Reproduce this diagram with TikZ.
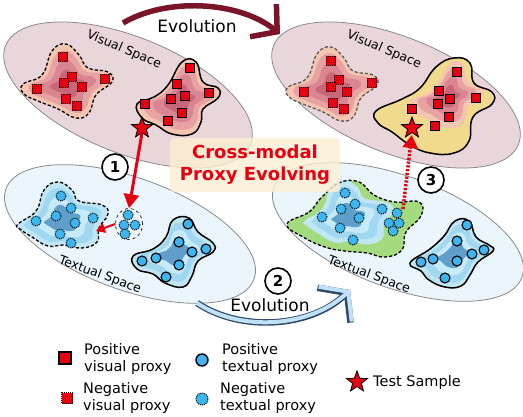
\documentclass[tikz,border=0pt]{standalone}
\usepackage{fontspec}
\setmainfont{DejaVu Sans}
\usetikzlibrary{arrows.meta,shapes.geometric}

\definecolor{visbg}{HTML}{E9D6DB}
\definecolor{txtbg}{HTML}{EAF6FC}
\definecolor{spaceline}{HTML}{8A8A8A}
\definecolor{redA}{HTML}{F4C5B0}
\definecolor{redB}{HTML}{E8A2A2}
\definecolor{redC}{HTML}{D98592}
\definecolor{redD}{HTML}{C86779}
\definecolor{bluA}{HTML}{C0E6F6}
\definecolor{bluB}{HTML}{9FD8F0}
\definecolor{bluC}{HTML}{C6EAF8}
\definecolor{bluD}{HTML}{5F9FCA}
\definecolor{yelA}{HTML}{F1D98E}
\definecolor{grnA}{HTML}{A5DB7F}
\definecolor{proxred}{HTML}{E60012}
\definecolor{proxblue}{HTML}{3DB5F0}
\definecolor{evored}{HTML}{7A1428}
\definecolor{evoblue}{HTML}{BFE2F6}
\definecolor{evoedge}{HTML}{2F4A66}
\definecolor{boxbg}{HTML}{FBEFD2}

% blob outlines, relative to the cluster centre (y down)
\newcommand{\blobvneg}{plot[smooth cycle, tension=0.75] coordinates {(-45,-1) (-26,-10) (-16,-34) (-2,-41) (11,-30) (20,-17) (40,-13) (44,-3) (28,10) (21,28) (8,33) (-10,24) (-30,16) (-44,9)}}
\newcommand{\blobvpos}{plot[smooth cycle, tension=0.75] coordinates {(-43,4) (-26,-3) (-12,-15) (2,-38) (16,-38) (23,-18) (38,-12) (38,-2) (23,9) (21,22) (12,34) (-8,34) (-24,25) (-38,18)}}
\newcommand{\blobyel}{plot[smooth cycle, tension=0.75] coordinates {(-56,6) (-30,-6) (-12,-17) (4,-38) (22,-47) (38,-42) (42,-22) (60,-13) (60,-1) (41,12) (37,36) (22,48) (-2,48) (-22,40) (-40,27) (-54,18)}}
\newcommand{\blobtneg}{plot[smooth cycle, tension=0.75] coordinates {(-44,4) (-26,-9) (-18,-30) (-4,-38) (10,-30) (17,-19) (40,-15) (46,-6) (37,8) (35,22) (20,28) (2,25) (-14,26) (-30,17) (-42,9)}}
\newcommand{\blobtpos}{plot[smooth cycle, tension=0.75] coordinates {(-42,4) (-22,-3) (-9,-15) (-2,-32) (14,-34) (23,-20) (38,-9) (38,0) (23,9) (17,24) (8,35) (-10,31) (-22,22) (-38,17)}}
\newcommand{\blobgrn}{plot[smooth cycle, tension=0.75] coordinates {(-68,4) (-46,-8) (-34,-22) (-16,-37) (4,-38) (19,-25) (40,-18) (64,-18) (66,-4) (51,12) (47,30) (30,37) (12,33) (-10,31) (-30,27) (-52,17)}}
\newcommand{\blobtposb}{plot[smooth cycle, tension=0.75] coordinates {(-45,8) (-25,-6) (-11,-19) (0,-34) (14,-34) (21,-18) (34,-10) (38,-4) (23,7) (15,20) (6,31) (-10,32) (-26,25) (-34,16)}}

\begin{document}
\begin{tikzpicture}[x=1pt,y=-1pt,
  space/.style={draw=spaceline, line width=0.8pt},
  negline/.style={draw=black, line width=1.3pt, dash pattern=on 3.2pt off 2pt},
  posline/.style={draw=black, line width=1.5pt},
  pvis/.style={draw, fill=proxred, minimum size=9.5pt, inner sep=0pt, line width=1.1pt},
  nvis/.style={pvis, line width=1pt, densely dotted},
  ptxt/.style={circle, draw, fill=proxblue, minimum size=10pt, inner sep=0pt, line width=1.1pt},
  ntxt/.style={ptxt, line width=1pt, densely dotted},
  sample/.style={star, star points=5, star point ratio=2.4, draw, fill=proxred, minimum size=22pt, inner sep=0pt, line width=0.8pt},
  stepnum/.style={circle, draw, fill=white, line width=1.6pt, minimum size=26pt, inner sep=0pt, font=\bfseries\fontsize{15}{15}\selectfont},
  spacelbl/.style={font=\fontsize{12.5}{14}\selectfont},
  evolbl/.style={font=\fontsize{17}{19}\selectfont},
  lgtext/.style={anchor=west, align=left, inner sep=0pt, font=\fontsize{14.5}{16.5}\selectfont},
  crossbox/.style={rounded corners=4pt, fill=boxbg, fill opacity=0.8, text opacity=1, text=proxred, align=center, minimum width=170pt, minimum height=54pt, inner sep=2pt, font=\bfseries\fontsize{18}{22}\selectfont},
  redarrow/.style={draw=proxred, line width=3pt, -{Triangle[length=14pt,width=15pt]}},
  pullarrow/.style={draw=proxred, line width=2pt, -{Triangle[length=9pt,width=10pt]}},
  liftarrow/.style={draw=proxred, line width=3.5pt, dash pattern=on 2.2pt off 1.6pt, -{Triangle[length=13pt,width=15pt]}},
]
\useasboundingbox (0,0) rectangle (523,417);

% spaces
\draw[space, fill=visbg, rotate around={-22:(128,95)}] (128,95) ellipse [x radius=132, y radius=58];
\draw[space, fill=visbg, rotate around={-22:(396,95)}] (396,95) ellipse [x radius=132, y radius=58];
\draw[space, fill=txtbg, rotate around={-20:(130,234)}] (130,234) ellipse [x radius=132, y radius=56];
\draw[space, fill=txtbg, rotate around={-20:(398,232)}] (398,232) ellipse [x radius=132, y radius=56];

% visual clusters, before
\foreach \s/\c in {1/redA,0.84/redB,0.62/redC,0.38/redD}
  \fill[\c, shift={(68,85)}, scale=\s] \blobvneg;
\draw[negline, shift={(68,85)}] \blobvneg;
\foreach \s/\c in {1/redA,0.84/redB,0.62/redC,0.38/redD}
  \fill[\c, shift={(180,100)}, scale=\s] \blobvpos;
\draw[posline, shift={(180,100)}] \blobvpos;

% visual clusters, after
\foreach \s/\c in {1/redA,0.84/redB,0.62/redC,0.38/redD}
  \fill[\c, shift={(333,88)}, scale=\s] \blobvneg;
\draw[negline, draw=black!65, shift={(333,88)}] \blobvneg;
\fill[yelA, shift={(432,105)}] \blobyel;
\foreach \s/\c in {0.88/redA,0.7/redB,0.5/redC,0.3/redD}
  \fill[\c, shift={(448,97)}, scale=\s] \blobvpos;
\draw[posline, shift={(432,105)}] \blobyel;

% textual clusters, before
\foreach \s/\c in {1/bluA,0.84/bluB,0.62/bluC,0.4/bluD}
  \fill[\c, shift={(62,220)}, scale=\s] \blobtneg;
\draw[negline, shift={(62,220)}] \blobtneg;
\foreach \s/\c in {1/bluA,0.84/bluB,0.62/bluC,0.4/bluD}
  \fill[\c, shift={(175,252)}, scale=\s] \blobtpos;
\draw[posline, shift={(175,252)}] \blobtpos;

% textual clusters, after
\fill[grnA, shift={(355,220)}] \blobgrn;
\foreach \s/\c in {0.98/bluA,0.8/bluB,0.58/bluC,0.37/bluD}
  \fill[\c, shift={(348,217)}, scale=\s] \blobtneg;
\draw[negline, shift={(355,220)}] \blobgrn;
\foreach \s/\c in {1/bluA,0.84/bluB,0.62/bluC,0.4/bluD}
  \fill[\c, shift={(455,255)}, scale=\s] \blobtposb;
\draw[posline, shift={(455,255)}] \blobtposb;

% labels of the spaces
\node[spacelbl, rotate=-23] (vsb) at (124,50) {Visual Space};
\node[spacelbl, rotate=-23] (vsa) at (384,50) {Visual Space};
\node[spacelbl, rotate=-20] (tsb) at (100,275) {Textual Space};
\node[spacelbl, rotate=-20] (tsa) at (369,275) {Textual Space};

% proxies
\node[draw, dashed, ellipse, minimum width=27pt, minimum height=31pt, line width=0.6pt] (moved) at (129,224) {};
\foreach \x/\y [count=\i] in {190/68,177/84,171/99,185/96,209/93,145/104,182/113,168/121}
  \node[pvis] (vbp\i) at (\x,\y) {};
\foreach \x/\y [count=\i] in {63/57,72/77,64/83,82/87,37/89,105/79,66/99,77/106}
  \node[nvis] (vbn\i) at (\x,\y) {};
\foreach \x/\y [count=\i] in {457/72,439/91,438/104,450/99,476/98,412/109,449/117,435/126}
  \node[pvis] (vap\i) at (\x,\y) {};
\foreach \x/\y [count=\i] in {331/61,339/80,331/87,347/92,304/92,372/83,333/103,344/109}
  \node[nvis] (van\i) at (\x,\y) {};
\foreach \x/\y [count=\i] in {188/224,179/242,192/252,206/249,156/258,142/261,179/265,166/277}
  \node[ptxt] (tbp\i) at (\x,\y) {};
\foreach \x/\y [count=\i] in {61/196,71/208,56/216,75/223,36/221,93/218,60/234,71/243,128/215,124/225,135/225,125/234}
  \node[ntxt] (tbn\i) at (\x,\y) {};
\foreach \x/\y [count=\i] in {467/225,457/241,484/250,472/254,421/262,433/259,457/261,445/278}
  \node[ptxt] (tap\i) at (\x,\y) {};
\foreach \x/\y [count=\i] in {345/193,355/204,341/209,359/218,322/217,382/209,340/228,353/240,397/213,389/223,399/223,393/231}
  \node[ntxt] (tan\i) at (\x,\y) {};

% test samples
\node[sample] (ts1) at (142,128) {};
\node[sample] (ts2) at (412,128) {};

% cross-modal box
\node[crossbox] (cross) at (255,165) {Cross-modal\\Proxy Evolving};

% steps
\coordinate (pull) at (96,231);
\coordinate (lift) at (403,209);
\draw[redarrow] (ts1.south) -- (moved.north);
\draw[pullarrow] (moved.west) -- (pull);
\draw[liftarrow, shorten >=2pt] (lift) -- (ts2.south);
\node[stepnum] (s1) at (115,167) {1};
\node[stepnum] (s3) at (431,180) {3};

% evolution arrows
\coordinate (evs) at (123,23);
\coordinate (eve) at (280,34);
\draw[evored, line width=5.5pt, -{Straight Barb[length=18pt,width=42pt]}] (evs) .. controls (165,-2) and (238,0) .. (eve);
\node[evolbl] (evt) at (197,26) {Evolution};
\coordinate (bvs) at (197,303);
\coordinate (bve) at (350,290);
\draw[evoedge, line width=6.5pt, -{Straight Barb[length=18pt,width=48pt]}] (bvs) .. controls (240,332) and (310,328) .. (bve);
\draw[evoblue, line width=4pt, -{Straight Barb[length=18pt,width=48pt]}] (bvs) .. controls (240,332) and (310,328) .. (bve);
\node[evolbl] (evb) at (270,305) {Evolution};
\node[stepnum] (s2) at (278,281) {2};

% legend
\node[pvis, minimum size=12pt, line width=1.4pt] (lgpv) at (65,358) {};
\node[lgtext] (lgpvt) at (84,359) {Positive\\visual proxy};
\node[nvis, minimum size=11pt] (lgnv) at (67,398) {};
\node[lgtext] (lgnvt) at (83,398) {Negative\\visual proxy};
\node[ptxt, minimum size=12pt, line width=1.4pt] (lgpt) at (202,360) {};
\node[lgtext] (lgptt) at (222,359) {Positive\\textual proxy};
\node[ntxt, minimum size=12pt] (lgnt) at (202,399) {};
\node[lgtext] (lgntt) at (220,398) {Negative\\textual proxy};
\node[sample] (lgts) at (357,382) {};
\node[lgtext] (lgtst) at (373,382) {Test Sample};
\end{tikzpicture}
\end{document}
